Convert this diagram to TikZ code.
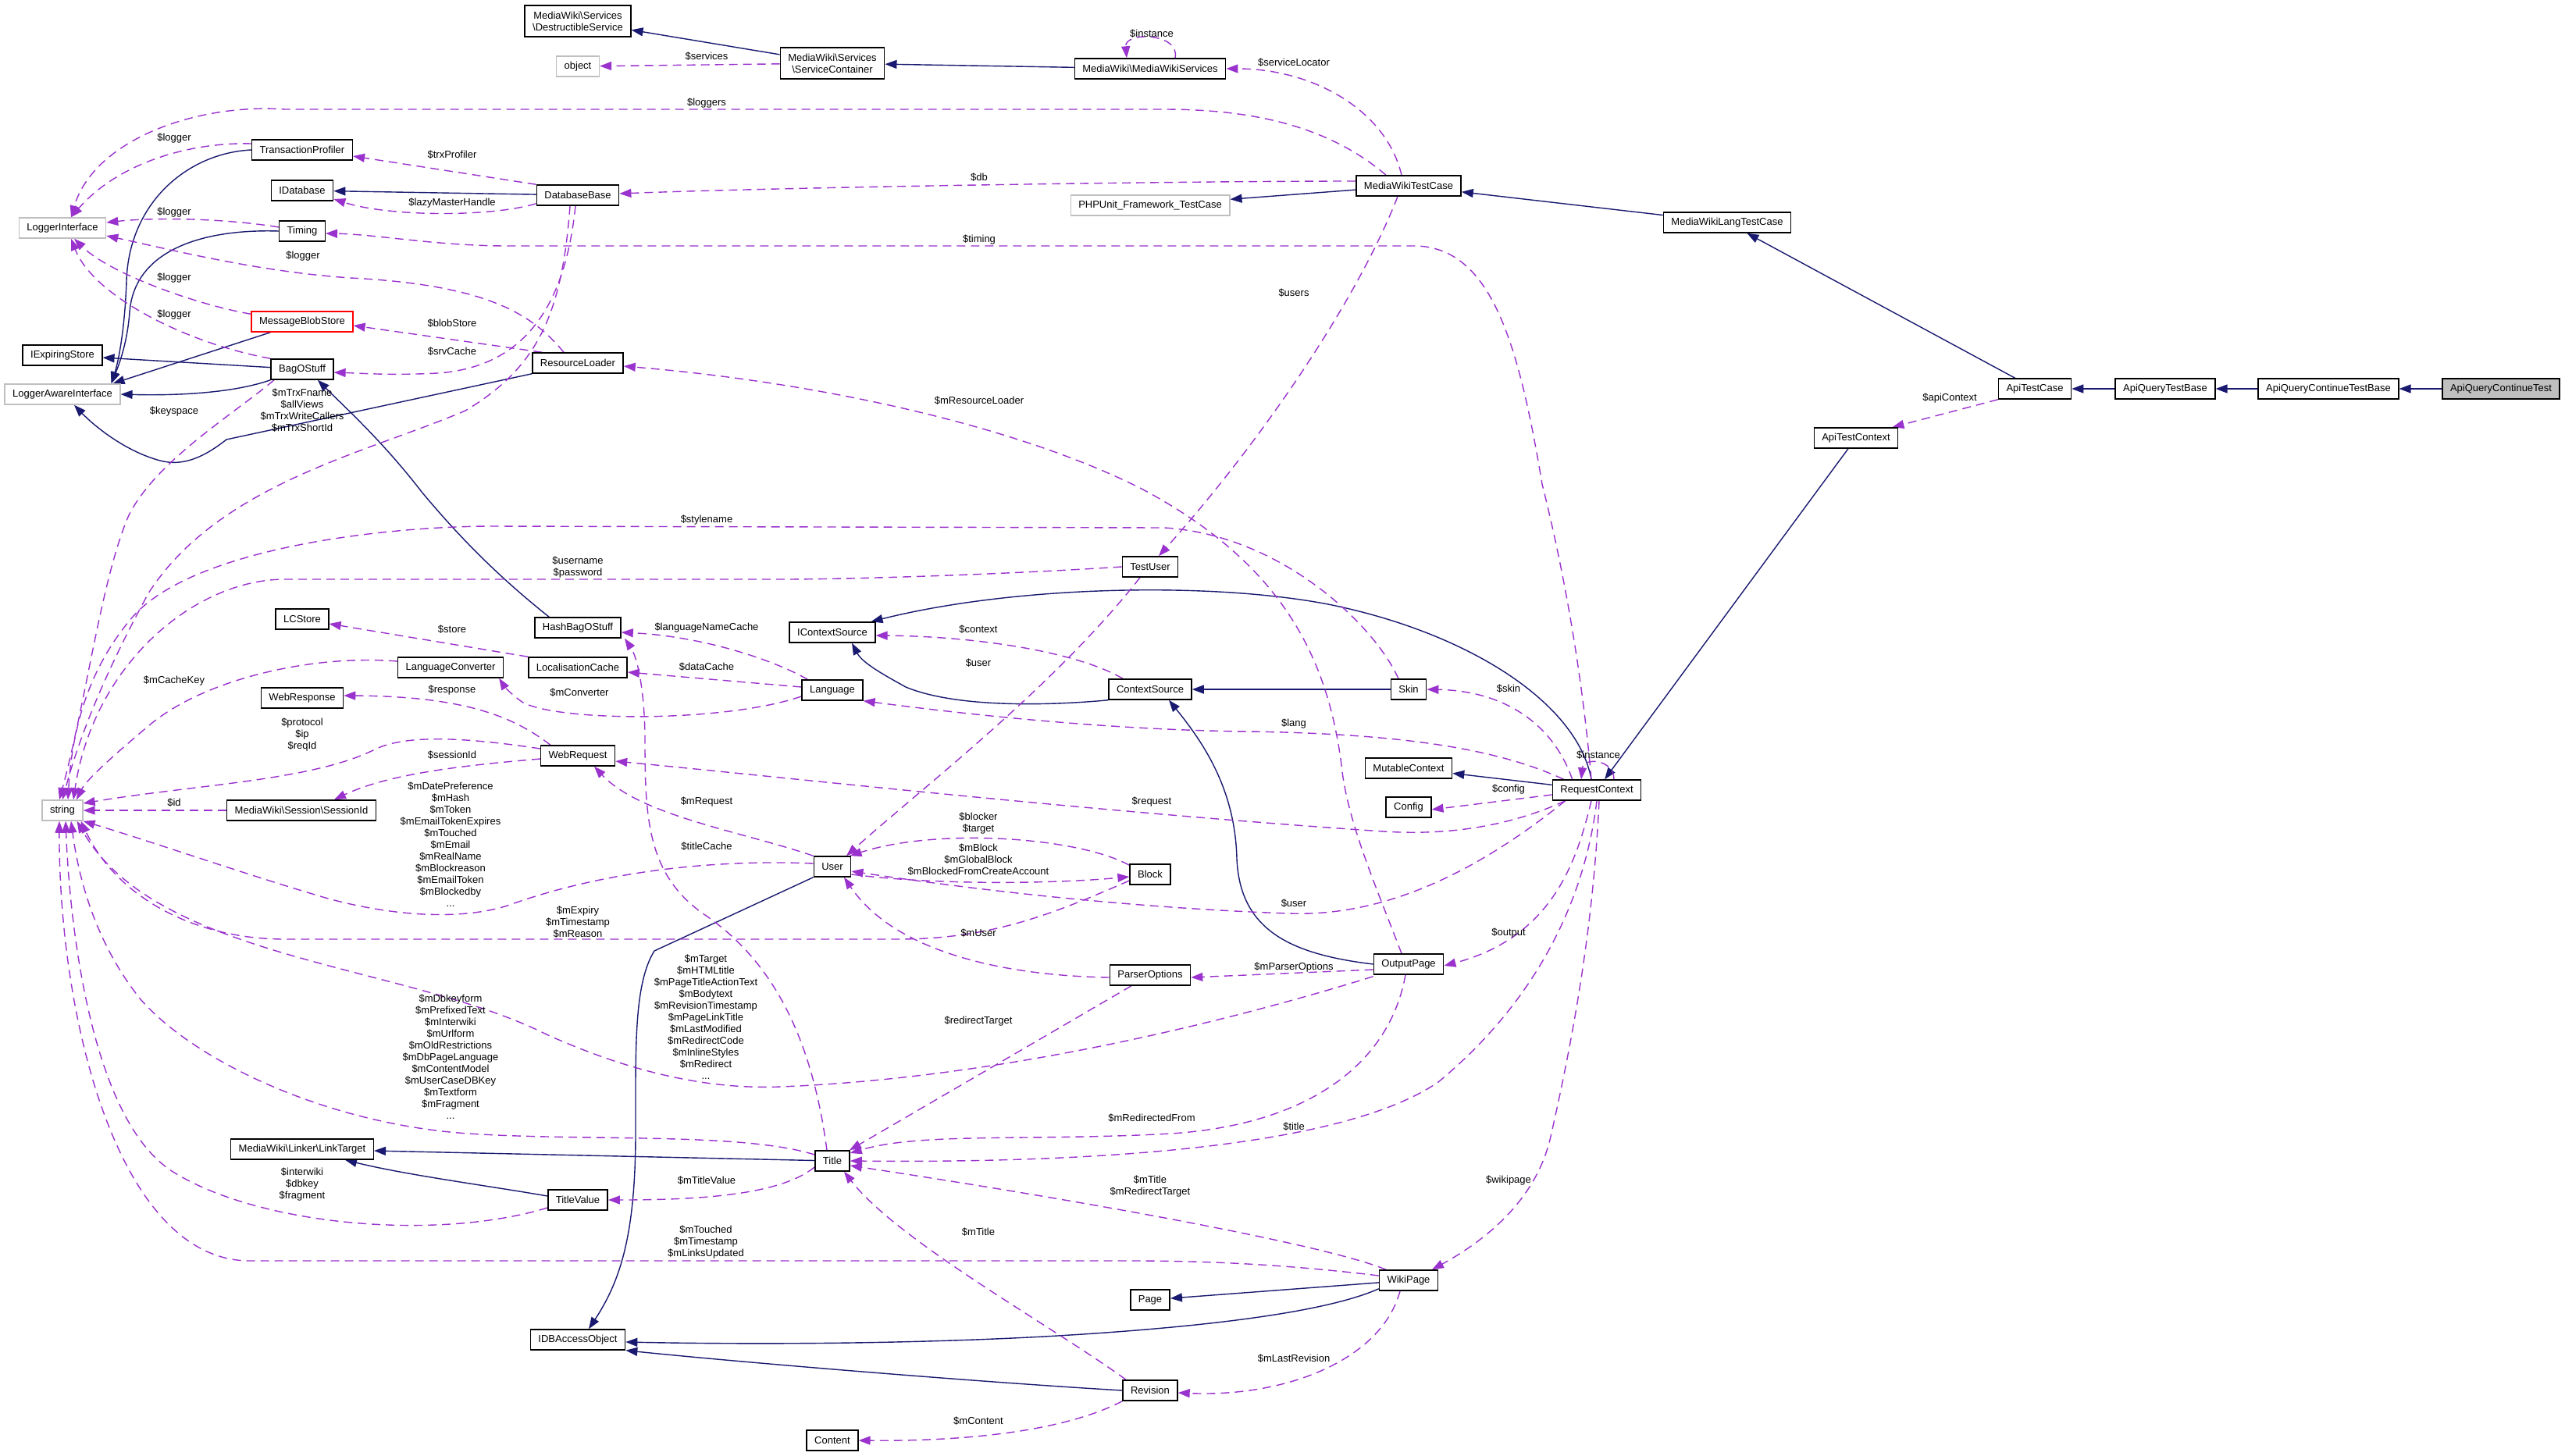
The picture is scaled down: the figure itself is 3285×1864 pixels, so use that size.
\documentclass[tikz,border=0pt]{standalone}
\usepackage{fontspec}
\setmainfont{Liberation Sans}
\usetikzlibrary{arrows.meta,backgrounds}
\definecolor{navy}{HTML}{191970}
\definecolor{orch}{HTML}{9A32CD}
\definecolor{grayb}{HTML}{BFBFBF}
\tikzset{
 cls/.style={draw=black, fill=white, line width=1.5pt, minimum height=26pt, inner xsep=10pt, inner ysep=3pt, font=\fontsize{13}{15}\selectfont, align=center},
 ext/.style={cls, draw=grayb},
 trunc/.style={cls, draw=red},
 inh/.style={draw=navy, line width=1.4pt, -{Triangle[length=15pt,width=11pt]}},
 use/.style={draw=orch, line width=1.4pt, dash pattern=on 11pt off 7pt, -{Triangle[length=15pt,width=11pt]}},
 lbl/.style={font=\fontsize{13}{15}\selectfont, align=center, inner sep=0pt},
}
\begin{document}
\begin{tikzpicture}[x=1pt,y=-1pt]
\useasboundingbox (0,0) rectangle (3285,1864);
% ---------- nodes
\node[cls, minimum height=40pt] (DS) at (740,27) {MediaWiki\textbackslash Services\\\textbackslash DestructibleService};
\node[ext] (OBJ) at (740,85) {object};
\node[cls, minimum height=40pt] (SC) at (1066,81) {MediaWiki\textbackslash Services\\\textbackslash ServiceContainer};
\node[cls] (MWS) at (1473,88) {MediaWiki\textbackslash MediaWikiServices};
\node[cls] (TP) at (387,192) {TransactionProfiler};
\node[cls] (IDB) at (387,244) {IDatabase};
\node[cls] (DBB) at (740,250) {DatabaseBase};
\node[ext] (LI) at (80,292) {LoggerInterface};
\node[cls] (TIM) at (387,296) {Timing};
\node[trunc] (MBS) at (387,412) {MessageBlobStore};
\node[cls] (IES) at (80,455) {IExpiringStore};
\node[cls] (BOS) at (387,473) {BagOStuff};
\node[ext] (LAI) at (80,505) {LoggerAwareInterface};
\node[cls] (RL) at (740,465) {ResourceLoader};
\node[cls] (MWTC) at (1804,238) {MediaWikiTestCase};
\node[ext] (PHP) at (1473,263) {PHPUnit\_Framework\_TestCase};
\node[cls] (MWLTC) at (2212,285) {MediaWikiLangTestCase};
\node[cls] (ATC) at (2606,498) {ApiTestCase};
\node[cls] (AQTB) at (2773,498) {ApiQueryTestBase};
\node[cls] (AQCTB) at (2982,498) {ApiQueryContinueTestBase};
\node[cls, fill=grayb] (AQCT) at (3203,498) {ApiQueryContinueTest};
\node[cls] (ATCX) at (2377,561) {ApiTestContext};
\node[cls] (LCS) at (387,793) {LCStore};
\node[cls] (HBOS) at (740,804) {HashBagOStuff};
\node[cls] (LCONV) at (577,855) {LanguageConverter};
\node[cls] (LOC) at (740,855) {LocalisationCache};
\node[cls] (LANG) at (1066,884) {Language};
\node[cls] (WRESP) at (387,894) {WebResponse};
\node[cls] (WREQ) at (740,968) {WebRequest};
\node[ext] (STR) at (80,1038) {string};
\node[cls] (SID) at (386,1038) {MediaWiki\textbackslash Session\textbackslash SessionId};
\node[cls] (USER) at (1066,1110) {User};
\node[cls] (ICS) at (1066,810) {IContextSource};
\node[cls] (TU) at (1473,726) {TestUser};
\node[cls] (CS) at (1473,883) {ContextSource};
\node[cls] (SKIN) at (1804,883) {Skin};
\node[cls] (MC) at (1804,984) {MutableContext};
\node[cls] (CFG) at (1804,1034) {Config};
\node[cls] (RC) at (2045,1012) {RequestContext};
\node[cls] (BLK) at (1473,1120) {Block};
\node[cls] (LT) at (387,1472) {MediaWiki\textbackslash Linker\textbackslash LinkTarget};
\node[cls] (TITLE) at (1066,1487) {Title};
\node[cls] (TV) at (740,1537) {TitleValue};
\node[cls] (IDBAO) at (740,1716) {IDBAccessObject};
\node[cls] (CONT) at (1066,1845) {Content};
\node[cls] (OP) at (1804,1235) {OutputPage};
\node[cls] (PO) at (1473,1249) {ParserOptions};
\node[cls] (WP) at (1804,1640) {WikiPage};
\node[cls] (PAGE) at (1473,1665) {Page};
\node[cls] (REV) at (1473,1781) {Revision};
% ---------- edges
\begin{pgfonlayer}{background}
\fill[white] (0,0) rectangle (3285,1864);
% inheritance
\draw[inh] (SC) -- (DS);
\draw[inh] (MWS) -- (SC);
\draw[inh] (MWTC) -- (PHP);
\draw[inh] (MWLTC) -- (MWTC);
\draw[inh] (ATC) -- (MWLTC);
\draw[inh] (AQTB) -- (ATC);
\draw[inh] (AQCTB) -- (AQTB);
\draw[inh] (AQCT) -- (AQCTB);
\draw[inh] (DBB) -- (IDB);
\draw[inh] (TP.west) .. controls (240,196) and (165,260) .. (162,360) .. controls (160,420) and (152,462) .. ([xshift=-12pt]LAI.north east);
\draw[inh] (TIM.west) .. controls (260,293) and (172,320) .. (166,400) .. controls (163,440) and (152,468) .. ([xshift=-12pt]LAI.north east);
\draw[inh] ([xshift=25pt]MBS.south west) -- ([xshift=-10pt]LAI.north east);
\draw[inh] (BOS) -- (IES);
\draw[inh] (BOS.south west) .. controls (300,503) and (230,507) .. (LAI.east);
\draw[inh] (RL.south west) -- (290,563) .. controls (262,585) and (235,598) .. (205,590) .. controls (160,578) and (120,545) .. ([xshift=15pt]LAI.south);
\draw[inh] ([xshift=19pt]HBOS.north west) .. controls (640,740) and (590,690) .. (540,630) .. controls (490,565) and (440,520) .. ([xshift=20pt]BOS.south);
\draw[inh] (CS.south west) .. controls (1330,905) and (1220,905) .. (1160,880) .. controls (1135,866) and (1105,850) .. ([xshift=25pt]ICS.south);
\draw[inh] (SKIN) -- (CS);
\draw[inh] ([xshift=-7pt]RC.north) .. controls (2020,900) and (1880,810) .. (1701,774) .. controls (1550,745) and (1300,750) .. ([xshift=-6pt]ICS.north east);
\draw[inh] (RC) -- (MC);
\draw[inh] (ATCX) -- (RC);
\draw[inh] (OP.west) .. controls (1650,1222) and (1588,1190) .. (1584,1100) .. controls (1582,1010) and (1540,950) .. ([xshift=24pt]CS.south);
\draw[inh] (TITLE) -- (LT);
\draw[inh] ([yshift=5pt]TV.west) .. controls (620,1518) and (520,1505) .. ([xshift=55pt]LT.south);
\draw[inh] (USER.south west) -- (838,1218) .. controls (812,1260) and (814,1340) .. (814,1450) .. controls (814,1580) and (795,1640) .. ([xshift=14pt]IDBAO.north);
\draw[inh] (WP) -- (PAGE);
\draw[inh] ([yshift=3pt]WP.south west) .. controls (1700,1680) and (1550,1700) .. (1337,1712) .. controls (1150,1722) and (950,1722) .. ([yshift=-3pt]IDBAO.east);
\draw[inh] (REV.west) .. controls (1250,1770) and (950,1745) .. (IDBAO.south east);
% usage
\draw[use] (SC) -- (OBJ);
\draw[use] ([xshift=32pt]MWS.north) .. controls (1512,42) and (1440,40) .. ([xshift=-30pt]MWS.north);
\draw[use] ([xshift=-9pt]MWTC.north) .. controls (1775,140) and (1680,88) .. (MWS.east);
\draw[use] ([xshift=-29pt]MWTC.north) .. controls (1700,160) and (1600,140) .. (1491,140) -- (365,140) .. controls (250,132) and (120,180) .. ([xshift=11pt]LI.north);
\draw[use] ([yshift=6pt]MWTC.west) .. controls (1500,232) and (1000,240) .. ([yshift=2pt]DBB.east);
\draw[use] ([yshift=8pt]TP.west) .. controls (240,182) and (150,210) .. ([xshift=11pt]LI.north);
\draw[use] (DBB.north west) -- ([yshift=-8pt]TP.east);
\draw[use] ([yshift=3pt]DBB.south west) .. controls (630,278) and (500,278) .. ([yshift=-11pt]IDB.east);
\draw[use] ([yshift=5pt]TIM.west) .. controls (290,280) and (200,278) .. ([yshift=7pt]LI.east);
\draw[use] ([xshift=-7pt]RC.north) .. controls (2025,850) and (2000,720) .. (1975,620) .. controls (1945,440) and (1910,318) .. (1814,315) -- (650,315) .. controls (560,315) and (480,300) .. ([yshift=-3pt]TIM.east);
\draw[use] ([yshift=-4pt]MBS.north west) .. controls (250,390) and (140,350) .. ([xshift=15pt]LI.south);
\draw[use] ([xshift=-18pt]RL.north) .. controls (680,400) and (620,365) .. (449,356) .. controls (330,348) and (220,320) .. ([yshift=-10pt]LI.east);
\draw[use] ([xshift=13pt]RL.north west) -- ([yshift=-5pt]MBS.east);
\draw[use] (BOS.north west) .. controls (240,440) and (120,380) .. ([xshift=11pt]LI.south);
\draw[use] ([xshift=-3pt]DBB.south) .. controls (725,380) and (680,470) .. (560,478) .. controls (500,481) and (460,478) .. ([yshift=-4pt]BOS.east);
\draw[use] ([xshift=-10pt]DBB.south) .. controls (720,400) and (690,470) .. (596,526) .. controls (470,580) and (280,620) .. (190,760) .. controls (130,870) and (100,950) .. (STR.north);
\draw[use] ([xshift=-36pt]BOS.south) .. controls (300,530) and (200,590) .. (165,660) .. controls (130,740) and (110,900) .. ([xshift=-4pt]STR.north);
\draw[use] ([xshift=-9pt]OP.north) .. controls (1760,1130) and (1725,1050) .. (1718,980) .. controls (1700,840) and (1640,720) .. (1460,625) .. controls (1300,545) and (1050,490) .. ([yshift=-4pt]RL.east);
\draw[use] ([xshift=-14pt]MWTC.south) .. controls (1740,380) and (1620,560) .. ([xshift=11pt]TU.north);
\draw[use] (TU.west) .. controls (1300,735) and (1100,742) .. (1000,742) -- (365,742) .. controls (250,742) and (120,850) .. ([xshift=14pt]STR.north);
\draw[use] ([xshift=-13pt]SKIN.north) .. controls (1760,800) and (1640,685) .. (1491,676) -- (631,674) .. controls (500,674) and (250,700) .. (170,790) .. controls (110,860) and (92,940) .. ([xshift=7pt]STR.north);
\draw[use] ([xshift=-13pt]TU.south) .. controls (1350,880) and (1180,1010) .. ([xshift=18pt]USER.north);
\draw[use] (LOC.north west) -- ([yshift=-6pt]LCS.east);
\draw[use] ([xshift=8pt]LANG.north west) .. controls (990,845) and (900,815) .. ([yshift=-6pt]HBOS.east);
\draw[use] ([yshift=4pt]LANG.west) -- ([yshift=-6pt]LOC.east);
\draw[use] ([yshift=-8pt]LANG.west) .. controls (930,925) and (720,925) .. (670,900) .. controls (655,890) and (645,878) .. ([xshift=-6pt]LCONV.south east);
\draw[use] ([yshift=8pt]LCONV.west) .. controls (400,838) and (260,870) .. (190,930) .. controls (140,972) and (110,1000) .. ([xshift=18pt]STR.north);
\draw[use] ([xshift=-35pt]WREQ.north) .. controls (660,920) and (600,892) .. ([yshift=3pt]WRESP.east);
\draw[use] ([yshift=9pt]WREQ.west) .. controls (600,945) and (520,940) .. (480,960) .. controls (400,1000) and (250,1005) .. ([yshift=9pt]STR.east);
\draw[use] ([yshift=-4pt]WREQ.west) .. controls (600,980) and (500,990) .. ([xshift=42pt]SID.north);
\draw[use] (SID) -- (STR);
\draw[use] (USER.north west) .. controls (950,1065) and (820,1045) .. ([xshift=21pt]WREQ.south);
\draw[use] ([yshift=4pt]USER.west) .. controls (900,1100) and (760,1120) .. (650,1160) .. controls (580,1182) and (480,1170) .. (400,1145) .. controls (300,1115) and (200,1080) .. (STR.south east);
\draw[use] ([yshift=-2pt]BLK.north west) .. controls (1380,1072) and (1200,1060) .. ([xshift=-2pt]USER.north east);
\draw[use] ([yshift=-10pt]USER.east) .. controls (1200,1134) and (1350,1132) .. ([yshift=-3pt]BLK.west);
\draw[use] ([xshift=17pt]RC.south west) .. controls (1900,1110) and (1780,1175) .. (1650,1170) .. controls (1450,1163) and (1250,1140) .. ([yshift=-6pt]USER.east);
\draw[use] ([yshift=-3pt]PO.west) .. controls (1300,1250) and (1150,1225) .. ([xshift=15pt]USER.south);
\draw[use] ([yshift=-8pt]BLK.west) .. controls (1350,1170) and (1270,1203) .. (1150,1203) -- (365,1203) .. controls (250,1203) and (150,1150) .. ([xshift=-3pt]STR.south east);
\draw[use] ([xshift=26pt]RC.north west) .. controls (1990,930) and (1930,885) .. (SKIN.east);
\draw[use] ([xshift=15pt]RC.north west) .. controls (1920,960) and (1800,940) .. (1600,937) .. controls (1400,935) and (1200,910) .. (LANG.south east);
\draw[use] ([xshift=22pt]RC.north) .. controls (2067,972) and (2028,970) .. ([xshift=-20pt]RC.north);
\draw[use] ([yshift=-6pt]RC.west) -- ([yshift=-3pt]CFG.east);
\draw[use] ([xshift=17pt]RC.south west) .. controls (1930,1060) and (1850,1070) .. (1772,1065) .. controls (1400,1040) and (1000,995) .. ([yshift=-7pt]WREQ.east);
\draw[use] ([xshift=-7pt]RC.south) .. controls (2020,1100) and (1990,1200) .. ([yshift=-2pt]OP.east);
\draw[use] (RC.south) .. controls (2030,1150) and (1970,1280) .. (1842,1386) .. controls (1720,1470) and (1400,1490) .. (TITLE.east);
\draw[use] ([xshift=3pt]RC.south) .. controls (2040,1200) and (2010,1350) .. (1985,1460) .. controls (1965,1540) and (1900,1590) .. ([xshift=30pt]WP.north);
\draw[use] ([yshift=-7pt]OP.west) -- ([yshift=-3pt]PO.east);
\draw[use] ([xshift=-4pt]OP.south) .. controls (1780,1360) and (1680,1440) .. (1500,1452) .. controls (1320,1462) and (1180,1450) .. ([yshift=10pt]TITLE.east);
\draw[use] ([yshift=-2pt]OP.south west) .. controls (1600,1300) and (1300,1380) .. (1000,1392) .. controls (900,1396) and (800,1370) .. (700,1325) .. controls (520,1235) and (200,1230) .. ([xshift=-8pt]STR.south east);
\draw[use] ([xshift=-24pt]PO.south) -- ([xshift=22pt]TITLE.north);
\draw[use] ([yshift=8pt]TITLE.west) .. controls (950,1450) and (750,1462) .. (600,1452) .. controls (420,1440) and (250,1360) .. (180,1280) .. controls (120,1205) and (100,1120) .. ([xshift=11pt]STR.south);
\draw[use] ([yshift=-8pt]TITLE.west) .. controls (1000,1530) and (900,1537) .. (TV.east);
\draw[use] ([yshift=-10pt]TV.west) .. controls (560,1590) and (330,1570) .. (220,1500) .. controls (120,1435) and (90,1200) .. ([xshift=4pt]STR.south);
\draw[use] ([yshift=6pt]WP.west) .. controls (1650,1620) and (1550,1615) .. (1450,1615) -- (320,1615) .. controls (150,1615) and (75,1300) .. ([xshift=-4pt]STR.south);
\draw[use] ([xshift=-29pt]WP.north) .. controls (1700,1595) and (1400,1540) .. ([yshift=-6pt]TITLE.east);
\draw[use] ([xshift=-31pt]REV.north) .. controls (1350,1700) and (1150,1590) .. ([xshift=15pt]TITLE.south);
\draw[use] ([xshift=-11pt]WP.south) .. controls (1770,1740) and (1650,1790) .. ([yshift=-3pt]REV.east);
\draw[use] (REV.south west) .. controls (1350,1840) and (1200,1846) .. (CONT.east);
\draw[use] ([xshift=-7pt]TITLE.north) .. controls (1040,1330) and (990,1230) .. (900,1170) .. controls (830,1120) and (826,1050) .. (826,950) .. controls (826,880) and (815,840) .. ([xshift=60pt]HBOS.south);
\draw[use] ([xshift=-35pt]CS.north) .. controls (1380,835) and (1250,815) .. ([yshift=-4pt]ICS.east);
\draw[use] (ATC.south west) -- ([xshift=-8pt]ATCX.north east);
\end{pgfonlayer}
% ---------- labels
\node[lbl] (l1) at (905,72) {\$services};
\node[lbl] (l2) at (1475,43) {\$instance};
\node[lbl] (l3) at (1657,80) {\$serviceLocator};
\node[lbl] (l4) at (905,132) {\$loggers};
\node[lbl] (l5) at (223,177) {\$logger};
\node[lbl] (l6) at (579,198) {\$trxProfiler};
\node[lbl] (l7) at (1254,227) {\$db};
\node[lbl] (l8) at (579,260) {\$lazyMasterHandle};
\node[lbl] (l9) at (223,272) {\$logger};
\node[lbl] (l10) at (1254,307) {\$timing};
\node[lbl] (l11) at (388,328) {\$logger};
\node[lbl] (l12) at (223,356) {\$logger};
\node[lbl] (l13) at (1657,375) {\$users};
\node[lbl] (l14) at (223,403) {\$logger};
\node[lbl] (l15) at (579,414) {\$blobStore};
\node[lbl] (l16) at (579,450) {\$srvCache};
\node[lbl] (l17) at (2497,510) {\$apiContext};
\node[lbl] (l18) at (1254,513) {\$mResourceLoader};
\node[lbl] (l19) at (387,526) {\$mTrxFname\\\$allViews\\\$mTrxWriteCallers\\\$mTrxShortId};
\node[lbl] (l20) at (223,527) {\$keyspace};
\node[lbl] (l21) at (905,666) {\$stylename};
\node[lbl] (l22) at (740,727) {\$username\\\$password};
\node[lbl] (l23) at (579,806) {\$store};
\node[lbl] (l24) at (905,804) {\$languageNameCache};
\node[lbl] (l25) at (1253,806) {\$context};
\node[lbl] (l26) at (1253,849) {\$user};
\node[lbl] (l27) at (223,872) {\$mCacheKey};
\node[lbl] (l28) at (905,854) {\$dataCache};
\node[lbl] (l29) at (1932,882) {\$skin};
\node[lbl] (l30) at (579,884) {\$response};
\node[lbl] (l31) at (742,887) {\$mConverter};
\node[lbl] (l32) at (1657,927) {\$lang};
\node[lbl] (l33) at (387,941) {\$protocol\\\$ip\\\$reqId};
\node[lbl] (l34) at (2047,967) {\$instance};
\node[lbl] (l35) at (579,967) {\$sessionId};
\node[lbl] (l36) at (1932,1011) {\$config};
\node[lbl] (l37) at (223,1028) {\$id};
\node[lbl] (l38) at (905,1027) {\$mRequest};
\node[lbl] (l39) at (1475,1027) {\$request};
\node[lbl] (l40) at (1253,1055) {\$blocker\\\$target};
\node[lbl] (l41) at (577,1082) {\$mDatePreference\\\$mHash\\\$mToken\\\$mEmailTokenExpires\\\$mTouched\\\$mEmail\\\$mRealName\\\$mBlockreason\\\$mEmailToken\\\$mBlockedby\\...};
\node[lbl] (l42) at (905,1084) {\$titleCache};
\node[lbl] (l43) at (1253,1101) {\$mBlock\\\$mGlobalBlock\\\$mBlockedFromCreateAccount};
\node[lbl] (l44) at (1657,1157) {\$user};
\node[lbl] (l45) at (740,1181) {\$mExpiry\\\$mTimestamp\\\$mReason};
\node[lbl] (l46) at (1253,1195) {\$mUser};
\node[lbl] (l47) at (1932,1195) {\$output};
\node[lbl] (l48) at (1657,1239) {\$mParserOptions};
\node[lbl] (l49) at (904,1303) {\$mTarget\\\$mHTMLtitle\\\$mPageTitleActionText\\\$mBodytext\\\$mRevisionTimestamp\\\$mPageLinkTitle\\\$mLastModified\\\$mRedirectCode\\\$mInlineStyles\\\$mRedirect\\...};
\node[lbl] (l50) at (1253,1308) {\$redirectTarget};
\node[lbl] (l51) at (577,1354) {\$mDbkeyform\\\$mPrefixedText\\\$mInterwiki\\\$mUrlform\\\$mOldRestrictions\\\$mDbPageLanguage\\\$mContentModel\\\$mUserCaseDBKey\\\$mTextform\\\$mFragment\\...};
\node[lbl] (l52) at (1475,1432) {\$mRedirectedFrom};
\node[lbl] (l53) at (1657,1443) {\$title};
\node[lbl] (l54) at (905,1512) {\$mTitleValue};
\node[lbl] (l55) at (387,1517) {\$interwiki\\\$dbkey\\\$fragment};
\node[lbl] (l56) at (1473,1520) {\$mTitle\\\$mRedirectTarget};
\node[lbl] (l57) at (1932,1512) {\$wikipage};
\node[lbl] (l58) at (1253,1578) {\$mTitle};
\node[lbl] (l59) at (904,1591) {\$mTouched\\\$mTimestamp\\\$mLinksUpdated};
\node[lbl] (l60) at (1657,1740) {\$mLastRevision};
\node[lbl] (l61) at (1253,1820) {\$mContent};
\end{tikzpicture}
\end{document}
